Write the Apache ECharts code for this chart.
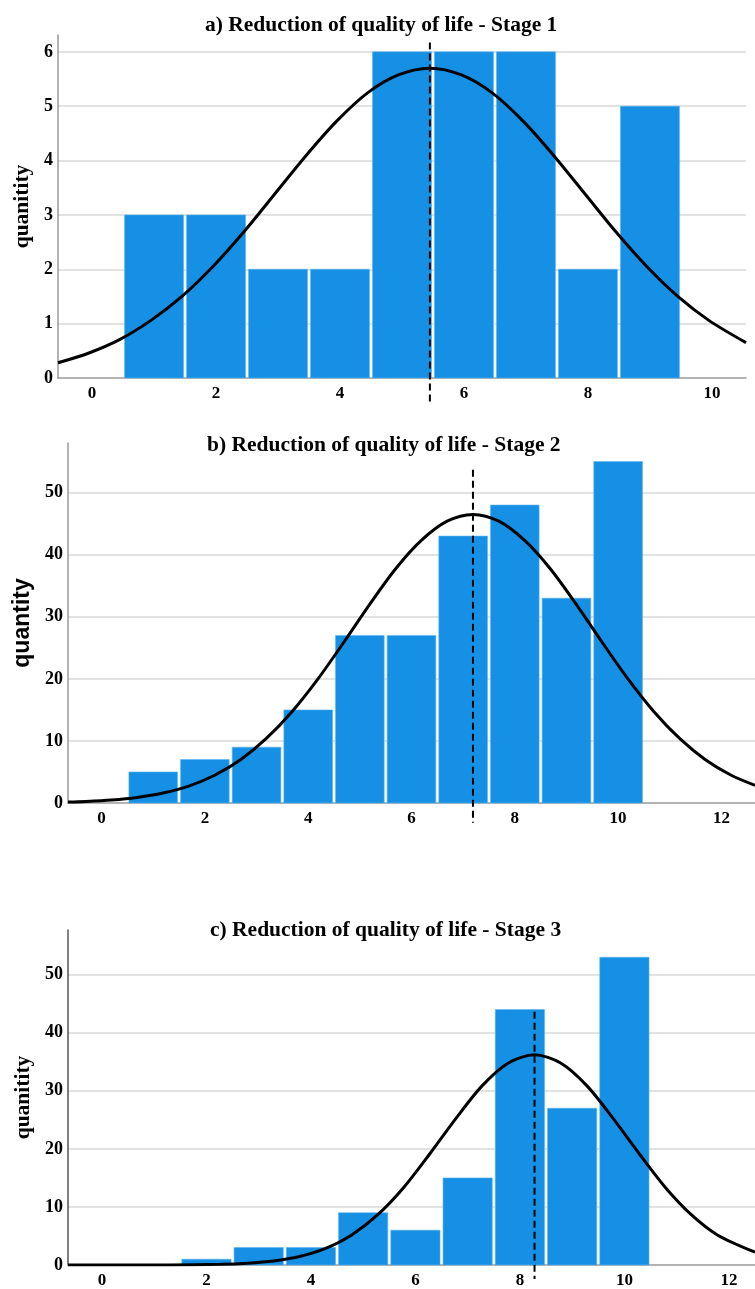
<!DOCTYPE html>
<html>
<head>
<meta charset="utf-8">
<script src="https://cdn.jsdelivr.net/npm/echarts@6/dist/echarts.min.js"></script>
<style>
  html, body { margin: 0; padding: 0; background: #fff; }
  #chart { width: 755px; height: 1289px; }
</style>
</head>
<body>
<div id="chart"></div>
<script>
// bin centres and counts
const binsA = [1, 2, 3, 4, 5, 6, 7, 8, 9];
const countsA = [3, 3, 2, 2, 6, 6, 6, 2, 5];
const binsB = [1, 2, 3, 4, 5, 6, 7, 8, 9, 10];
const countsB = [5, 7, 9, 15, 27, 27, 43, 48, 33, 55];
const binsC = [1, 2, 3, 4, 5, 6, 7, 8, 9, 10];
const countsC = [0, 1, 3, 3, 9, 6, 15, 44, 27, 53];

const curveXA = [-0.55, -0.05, 0.45, 0.95, 1.45, 1.95, 2.45, 2.95, 3.45, 3.95, 4.45, 4.95, 5.45,
    5.95, 6.45, 6.95, 7.45, 7.95, 8.45, 8.95, 9.45, 9.95, 10.55];
const curveYA = [0.28, 0.46, 0.71, 1.06, 1.5, 2.05, 2.69, 3.39, 4.09, 4.73, 5.25, 5.58, 5.7,
    5.58, 5.25, 4.73, 4.09, 3.39, 2.69, 2.05, 1.5, 1.06, 0.65];
const curveXB = [-0.65, -0.31, 0.19, 0.69, 1.19, 1.69, 2.19, 2.69, 3.19, 3.69, 4.19, 4.69, 5.19, 5.69, 6.19, 6.69, 7.19,
    7.69, 8.19, 8.69, 9.19, 9.69, 10.19, 10.69, 11.19, 11.69, 12.19, 12.65];
const curveYB = [0.15, 0.24, 0.47, 0.89, 1.6, 2.73, 4.47, 6.97, 10.4, 14.75, 20.0, 25.9, 32.0, 37.7, 42.3, 45.4, 46.5,
    45.4, 42.3, 37.7, 32.0, 25.9, 20.0, 14.75, 10.4, 6.97, 4.47, 2.85];
const curveXC = [-0.65, 0.28, 1.28, 2.28, 2.78, 3.28, 3.78, 4.28, 4.78, 5.28, 5.78, 6.28, 6.78, 7.28, 7.78, 8.28,
    8.78, 9.28, 9.78, 10.28, 10.78, 11.28, 11.78, 12.5];
const curveYC = [0, 0, 0.02, 0.12, 0.3, 0.68, 1.45, 2.85, 5.17, 8.66, 13.4, 19.2, 25.3, 30.9, 34.8, 36.2,
    34.8, 30.9, 25.3, 19.2, 13.4, 8.66, 5.17, 2.2];

// mean markers: x position and [top, bottom] of the dashed line
const meanA = 5.45, meanSpanA = [6.17, -0.44];
const meanB = 7.19, meanSpanB = [53.7, -3.2];
const meanC = 8.28, meanSpanC = [43.6, -2.4];

const xTicksA = [0, 2, 4, 6, 8, 10];
const xTicksBC = [0, 2, 4, 6, 8, 10, 12];

const titles = [
    "a) Reduction of quality of life - Stage 1",
    "b) Reduction of quality of life - Stage 2",
    "c) Reduction of quality of life - Stage 3",
];
const yNames = ["quanitity", "quantity", "quanitity"];

const barColor = "#1590e4";
const serif = "'Liberation Serif', 'Times New Roman', serif";
const zip = (xs, ys) => xs.map((x, i) => [x, ys[i]]);

const chart = echarts.init(document.getElementById("chart"));

function histItem(params, api) {
    const x = api.value(0);
    const v = api.value(1);
    const p0 = api.coord([x - 0.5, 0]);
    const p1 = api.coord([x + 0.5, v]);
    return {
        type: "rect",
        shape: { x: p0[0] + 1.5, y: p1[1], width: p1[0] - p0[0] - 3, height: p0[1] - p1[1] },
        style: { fill: barColor, stroke: "#5cb3ee", lineWidth: 0.6 },
    };
}

function xAxisFor(idx, min, max, ticks) {
    return {
        type: "value",
        gridIndex: idx,
        min: min,
        max: max,
        axisLine: { onZero: false, lineStyle: { color: "#9a9a9a", width: 1.5 } },
        axisTick: { show: false },
        splitLine: { show: false },
        axisLabel: {
            customValues: ticks,
            color: "#000",
            fontFamily: serif,
            fontWeight: "bold",
            fontSize: 17,
            margin: 7,
        },
    };
}

function yAxisFor(idx, max, interval, name, nameFont, nameSize, lineColor) {
    return {
        type: "value",
        gridIndex: idx,
        min: 0,
        max: max,
        interval: interval,
        name: name,
        nameLocation: "middle",
        nameGap: 24,
        nameTextStyle: { color: "#000", fontFamily: nameFont, fontWeight: "bold", fontSize: nameSize },
        axisLine: { show: true, onZero: false, lineStyle: { color: lineColor, width: 1.5 } },
        axisTick: { show: false },
        axisLabel: {
            showMaxLabel: false,
            color: "#000",
            fontFamily: serif,
            fontWeight: "bold",
            fontSize: 18,
            margin: 5,
        },
        splitLine: { showMaxLine: false, showMinLine: false, lineStyle: { color: "#d8d8d8", width: 1.5 } },
    };
}

function seriesFor(idx, bins, counts, cx, cy, mean, span) {
    return [
        {
            type: "custom",
            xAxisIndex: idx,
            yAxisIndex: idx,
            renderItem: histItem,
            data: zip(bins, counts),
            z: 2,
        },
        {
            type: "line",
            xAxisIndex: idx,
            yAxisIndex: idx,
            data: zip(cx, cy),
            smooth: 0.3,
            symbol: "none",
            lineStyle: { color: "#000", width: 3 },
            z: 3,
        },
        {
            type: "line",
            xAxisIndex: idx,
            yAxisIndex: idx,
            data: [[mean, span[0]], [mean, span[1]]],
            symbol: "none",
            clip: false,
            lineStyle: { color: "#000", width: 2, type: [7, 4] },
            z: 4,
        },
    ];
}

const option = {
    animation: false,
    backgroundColor: "#fff",
    title: [
        { text: titles[0], left: 200, top: 9 },
        { text: titles[1], left: 202, top: 429 },
        { text: titles[2], left: 205, top: 914 },
    ].map(t => Object.assign(t, {
        textStyle: { fontFamily: serif, fontWeight: "bold", fontSize: 21.5, color: "#000" },
    })),
    grid: [
        { left: 58, right: 9, top: 35, height: 343 },
        { left: 68, right: 0, top: 443, height: 360 },
        { left: 68, right: 0, top: 930, height: 336 },
    ],
    xAxis: [
        xAxisFor(0, -0.55, 10.55, xTicksA),
        xAxisFor(1, -0.65, 12.65, xTicksBC),
        xAxisFor(2, -0.65, 12.5, xTicksBC),
    ],
    yAxis: [
        yAxisFor(0, 6.31, 1, yNames[0], serif, 21.5, "#9a9a9a"),
        yAxisFor(1, 58, 10, yNames[1], "'Liberation Sans', Arial, sans-serif", 23, "#9a9a9a"),
        yAxisFor(2, 57.7, 10, yNames[2], serif, 21.5, "#555"),
    ],
    series: [].concat(
        seriesFor(0, binsA, countsA, curveXA, curveYA, meanA, meanSpanA),
        seriesFor(1, binsB, countsB, curveXB, curveYB, meanB, meanSpanB),
        seriesFor(2, binsC, countsC, curveXC, curveYC, meanC, meanSpanC)
    ),
};

chart.setOption(option);
</script>
</body>
</html>
